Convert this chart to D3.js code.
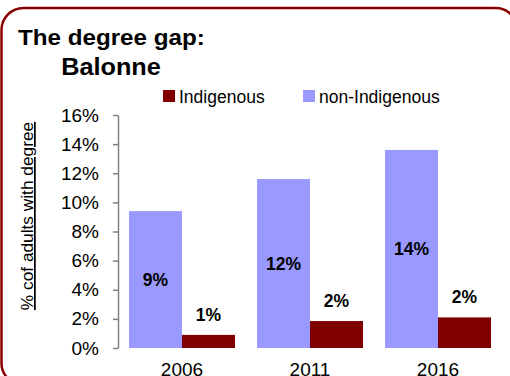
<!DOCTYPE html>
<html>
<head>
<meta charset="utf-8">
<script src="https://cdn.jsdelivr.net/npm/d3@7"></script>
<style>
  html, body { margin: 0; padding: 0; background: #fff; }
  svg { display: block; font-family: "Liberation Sans", Arial, sans-serif; }
</style>
</head>
<body>
<svg id="chart" width="510" height="376"></svg>
<script>
// Census years and share of adults holding a degree
const years = ["2006", "2011", "2016"];
const seriesNames = ["non-Indigenous", "Indigenous"];
const nonIndigenous = [0.094, 0.116, 0.136];
const indigenous = [0.009, 0.0185, 0.021];
const yTicks = [0, 0.02, 0.04, 0.06, 0.08, 0.10, 0.12, 0.14, 0.16];
const legendOrder = ["Indigenous", "non-Indigenous"];

const colors = { "non-Indigenous": "#9999ff", "Indigenous": "#800000" };

const svg = d3.select("#chart");

// Rounded frame around the whole chart
svg.append("rect")
  .attr("x", 1.5).attr("y", 8)
  .attr("width", 516).attr("height", 377)
  .attr("rx", 22).attr("ry", 22)
  .attr("fill", "none")
  .attr("stroke", "#8b0000")
  .attr("stroke-width", 2.5);

// Title
svg.append("text")
  .attr("transform", "translate(18,45) scale(1.1,1)")
  .attr("font-size", 22).attr("font-weight", "bold")
  .text("The degree gap:");
svg.append("text")
  .attr("transform", "translate(111,75) scale(1.1,1)")
  .attr("text-anchor", "middle")
  .attr("font-size", 23).attr("font-weight", "bold")
  .text("Balonne");

// Scales
const x0 = d3.scaleBand().domain(years).range([118, 502]).padding(0);
const x1 = d3.scaleBand().domain(seriesNames).range([11, 117]).padding(0);
const y = d3.scaleLinear().domain([0, 0.16]).range([348, 115]);

// Y axis
const yAxis = svg.append("g")
  .attr("transform", "translate(118,0)")
  .call(d3.axisLeft(y).tickValues(yTicks).tickFormat(d3.format(".0%"))
    .tickSize(5).tickSizeOuter(0).tickPadding(14));
yAxis.select(".domain").attr("stroke", "#808080").attr("stroke-width", 1.5);
yAxis.selectAll(".tick line").attr("stroke", "#808080").attr("stroke-width", 1.5);
yAxis.selectAll(".tick text")
  .attr("font-family", "Liberation Sans, Arial, sans-serif")
  .attr("font-size", 19).attr("fill", "#000");

// X labels (no axis line)
svg.append("g").selectAll("text")
  .data(years).join("text")
  .attr("x", d => x0(d) + x0.bandwidth() / 2)
  .attr("y", 376)
  .attr("text-anchor", "middle")
  .attr("font-size", 19)
  .text(d => d);

// Y axis title, underlined
svg.append("text")
  .attr("transform", "translate(33,216) rotate(-90)")
  .attr("text-anchor", "middle")
  .attr("font-size", 17.3)
  .attr("text-decoration", "underline")
  .text("% cof adults with degree");

// Bars
const rows = years.map((yr, i) => ({
  year: yr,
  values: [
    { key: "non-Indigenous", value: nonIndigenous[i] },
    { key: "Indigenous", value: indigenous[i] }
  ]
}));
const fmt = d3.format(".0%");

const groups = svg.append("g").selectAll("g")
  .data(rows).join("g")
  .attr("transform", d => `translate(${x0(d.year)},0)`);

groups.selectAll("rect")
  .data(d => d.values).join("rect")
  .attr("x", d => x1(d.key))
  .attr("width", x1.bandwidth())
  .attr("y", d => y(d.value))
  .attr("height", d => y(0) - y(d.value))
  .attr("fill", d => colors[d.key]);

// Value labels: inside the tall bars, above the short ones
groups.selectAll("text.val")
  .data(d => d.values).join("text")
  .attr("class", "val")
  .attr("x", d => x1(d.key) + x1.bandwidth() / 2)
  .attr("y", d => d.key === "non-Indigenous"
    ? (y(d.value) + y(0)) / 2 + 6
    : y(d.value) - 14)
  .attr("text-anchor", "middle")
  .attr("font-size", 17.5).attr("font-weight", "bold")
  .text(d => fmt(d.value));

// Legend
const legendX = { "Indigenous": 163, "non-Indigenous": 303 };
const legend = svg.append("g").selectAll("g")
  .data(legendOrder).join("g")
  .attr("transform", d => `translate(${legendX[d]},90)`);
legend.append("rect")
  .attr("width", 12).attr("height", 12)
  .attr("fill", d => colors[d]);
legend.append("text")
  .attr("x", 16).attr("y", 13)
  .attr("font-size", 17.5)
  .text(d => d);
</script>
</body>
</html>
